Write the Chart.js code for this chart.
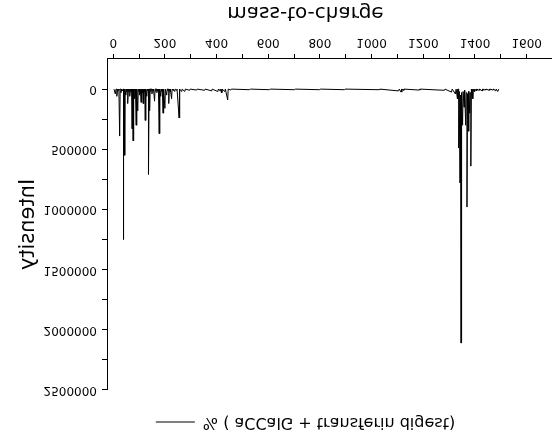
<!DOCTYPE html>
<html>
<head>
<meta charset="utf-8">
<script src="https://cdn.jsdelivr.net/npm/chart.js@4"></script>
<style>
  html, body { margin: 0; padding: 0; background: #fff; }
  /* the reference picture is mirrored top-to-bottom */
  #spectrum { display: block; transform: scaleY(-1); }
</style>
</head>
<body>
<canvas id="spectrum" width="552" height="444"></canvas>
<script>
// m/z positions and intensities (baseline points included)
const mzValues = [
  3, 8, 11, 14, 17, 20, 22, 25, 27, 30, 33, 36, 38, 39, 41, 43, 45, 49, 52, 54,
  55, 57, 59, 62, 63, 65, 67, 70, 71, 73, 75, 77, 79, 81, 82, 84, 86, 89, 91, 95,
  97, 100, 101, 103, 105, 108, 110, 113, 114, 116, 118, 121, 122, 124, 126, 130, 132, 135, 136, 137,
  139, 141, 143, 146, 147, 150, 152, 155, 156, 160, 162, 165, 166, 169, 171, 174, 175, 178, 180, 184,
  186, 189, 190, 193, 195, 200, 202, 207, 209, 212, 213, 215, 217, 220, 221, 226, 228, 232, 233, 238,
  240, 246, 247, 255, 257, 265, 267, 277, 279, 296, 298, 323, 325, 354, 356, 381, 383, 405, 407, 412,
  414, 419, 421, 432, 434, 443, 445, 455, 457, 528, 530, 605, 607, 702, 704, 799, 801, 895, 897, 1030,
  1032, 1104, 1107, 1114, 1117, 1123, 1125, 1185, 1187, 1282, 1284, 1309, 1312, 1324, 1327, 1332, 1334, 1335, 1337, 1339,
  1342, 1344, 1346, 1348, 1352, 1354, 1358, 1360, 1364, 1366, 1369, 1371, 1374, 1376, 1380, 1382, 1384, 1386, 1390, 1392,
  1397, 1399, 1405, 1407, 1416, 1418, 1428, 1430, 1440, 1442, 1455, 1457, 1470, 1472, 1480, 1482, 1488, 1492
];
const intensityValues = [
  0, 40000, 0, 60000, 0, 10000, 0, 390000, 0, 30000, 0, 15000, 0, 1250000, 0, 550000, 0, 50000, 0, 20000,
  0, 120000, 0, 25000, 0, 60000, 0, 20000, 0, 330000, 0, 430000, 0, 15000, 0, 80000, 0, 300000, 0, 180000,
  0, 20000, 0, 50000, 0, 110000, 0, 30000, 0, 120000, 0, 20000, 0, 260000, 0, 60000, 0, 15000, 0, 710000,
  0, 180000, 0, 20000, 0, 40000, 0, 15000, 0, 100000, 0, 20000, 0, 30000, 0, 15000, 0, 370000, 0, 60000,
  0, 20000, 0, 200000, 0, 160000, 0, 50000, 0, 15000, 0, 120000, 0, 20000, 0, 80000, 0, 10000, 0, 20000,
  0, 10000, 0, 240000, 0, 20000, 0, 20000, 0, 10000, 0, 8000, 0, 10000, 0, 15000, 0, 20000, 0, 12000,
  0, 30000, 0, 20000, 0, 90000, 0, 8000, 0, 5000, 0, 5000, 0, 5000, 0, 5000, 0, 5000, 0, 5000,
  0, 15000, 0, 25000, 0, 10000, 0, 8000, 0, 10000, 0, 25000, 0, 40000, 0, 80000, 0, 0, 490000, 20000,
  780000, 50000, 2110000, 30000, 300000, 20000, 150000, 10000, 300000, 30000, 980000, 40000, 350000, 20000, 200000, 30000, 640000, 0, 80000, 0,
  20000, 0, 15000, 0, 10000, 0, 15000, 0, 8000, 0, 10000, 0, 8000, 0, 15000, 0, 20000, 0
];
const xTickValues = [0, 100, 200, 300, 400, 500, 600, 700, 800, 900, 1000, 1100, 1200, 1300, 1400, 1500, 1600];
const yTickValues = [0, 250000, 500000, 750000, 1000000, 1250000, 1500000, 1750000, 2000000, 2250000, 2500000];
const seriesName = "% ( aCCalG + transferin digest)";

const FONT = "'DejaVu Sans', sans-serif";
Chart.defaults.color = "#000";
Chart.defaults.font.family = FONT;

const points = mzValues.map((mz, i) => ({ x: mz, y: intensityValues[i] }));

new Chart(document.getElementById("spectrum"), {
  type: "line",
  data: {
    datasets: [{
      label: seriesName,
      data: points,
      borderColor: "#000",
      backgroundColor: "#000",
      borderWidth: 1,
      pointRadius: 0,
      tension: 0,
      fill: false,
    }],
  },
  options: {
    responsive: false,
    devicePixelRatio: 1,
    animation: false,
    // negative right padding shifts legend and title centre to the right
    layout: { padding: { top: 6, left: 0, right: -59, bottom: 0 } },
    plugins: {
      tooltip: { enabled: false },
      legend: {
        position: "top",
        weight: 3000,
        labels: {
          font: { size: 16 },
          padding: 8,
          usePointStyle: true,
          pointStyle: "line",
          pointStyleWidth: 39,
        },
      },
      // empty spacer between legend and plot
      subtitle: {
        display: true,
        text: "",
        position: "top",
        font: { size: 14, lineHeight: 1 },
        padding: 0,
      },
      title: {
        display: true,
        text: "mass-to-charge",
        position: "bottom",
        font: { size: 20, weight: "normal" },
        padding: { top: 1, bottom: 0 },
      },
    },
    scales: {
      x: {
        type: "linear",
        position: "bottom",
        min: -24,
        max: 1698,
        afterBuildTicks: (scale) => { scale.ticks = xTickValues.map((v) => ({ value: v })); },
        afterFit: (scale) => { scale.height = 34; },
        ticks: {
          font: { size: 12 },
          padding: 5,
          maxRotation: 0,
          autoSkip: false,
          callback: (v) => (v % 200 === 0 ? String(v) : ""),
        },
        grid: { drawOnChartArea: false, tickLength: 5, tickColor: "#000" },
        border: { color: "#000", width: 1 },
      },
      y: {
        min: -250000,
        max: 2500000,
        afterBuildTicks: (scale) => { scale.ticks = yTickValues.map((v) => ({ value: v })); },
        afterFit: (scale) => { scale.width = 107; },
        ticks: {
          font: { size: 12 },
          padding: 5,
          autoSkip: false,
          callback: (v) => (v % 500000 === 0 ? String(v) : ""),
        },
        title: {
          display: true,
          text: "Intensity",
          font: { size: 21 },
          padding: { top: 16, bottom: 0 },
        },
        grid: { drawOnChartArea: false, tickLength: 5, tickColor: "#000" },
        border: { color: "#000", width: 1 },
      },
    },
  },
});
</script>
</body>
</html>
